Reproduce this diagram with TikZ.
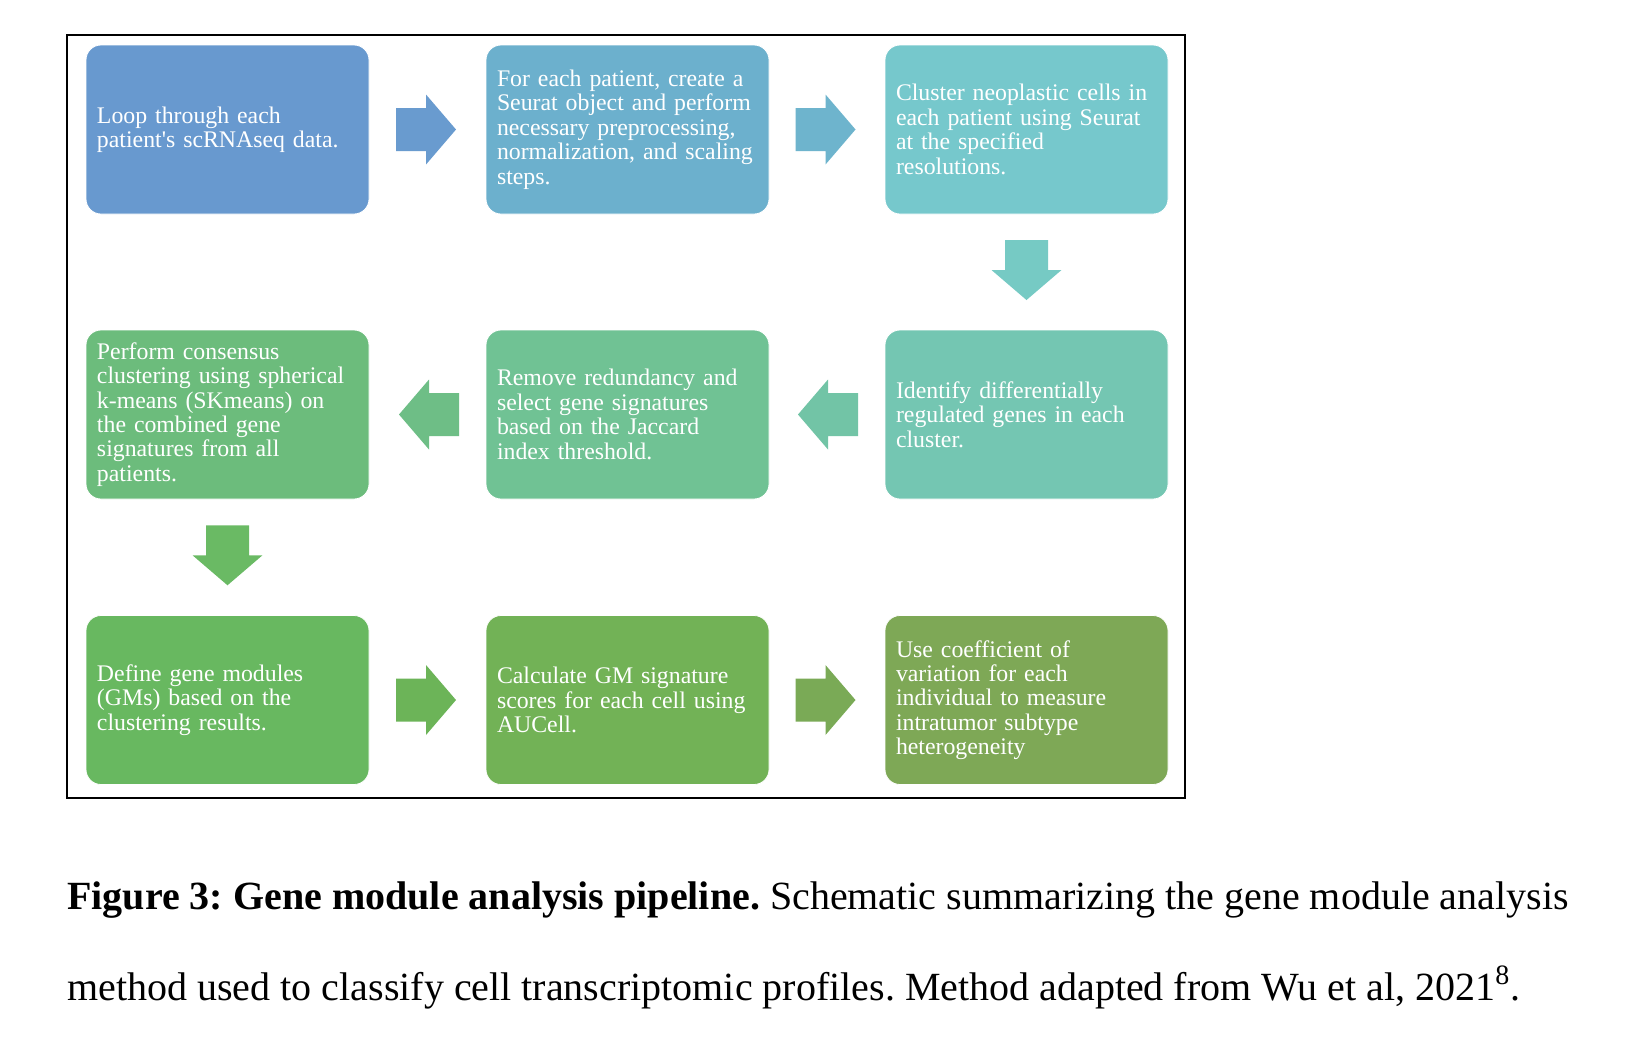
\documentclass[tikz,border=0pt]{standalone}
\usepackage{fontspec}
\setmainfont{Liberation Serif}[Ligatures=TeXOff]
\usetikzlibrary{calc}
\definecolor{bA}{RGB}{104,153,207}
\definecolor{aA}{RGB}{105,155,207}
\definecolor{bB}{RGB}{108,176,205}
\definecolor{aB}{RGB}{110,180,205}
\definecolor{bC}{RGB}{118,200,204}
\definecolor{aC}{RGB}{118,202,196}
\definecolor{bF}{RGB}{116,198,178}
\definecolor{aD}{RGB}{114,196,166}
\definecolor{bE}{RGB}{112,194,148}
\definecolor{aE}{RGB}{110,190,134}
\definecolor{bD}{RGB}{108,188,124}
\definecolor{aF}{RGB}{106,186,100}
\definecolor{bG}{RGB}{104,184,96}
\definecolor{aG}{RGB}{108,180,88}
\definecolor{bH}{RGB}{114,178,86}
\definecolor{aH}{RGB}{122,170,86}
\definecolor{bI}{RGB}{126,168,86}
\tikzset{
  stepbox/.style={rectangle, rounded corners=7.5pt, draw=white, line width=0.4pt,
    minimum width=141.5pt, minimum height=84.5pt, text width=130.5pt,
    inner xsep=5.5pt, inner ysep=0pt, align=left, text=white,
    font=\fontsize{11.9}{12.2}\selectfont},
  blockarrow/.pic={\fill[#1] (-30,-21.5) -- (0,-21.5) -- (0,-35) -- (30,0) -- (0,35) -- (0,21.5) -- (-30,21.5) -- cycle;},
  captext/.style={anchor=base west, inner sep=0pt, font=\fontsize{20}{24}\selectfont}
}
\begin{document}
\frenchspacing
\begin{tikzpicture}[x=0.5pt, y=-0.5pt]
\useasboundingbox (0,0) rectangle (1640,1056);
\fill[white] (0,0) rectangle (1640,1056);
\draw[line width=1pt] (67,35) rectangle (1185,798);
% row 1
\node[stepbox, fill=bA] (b1) at (227.5,129.5) {Loop through each\\patient's scRNAseq data.};
\node[stepbox, fill=bB] (b2) at (627.5,129.5) {For each patient, create a\\Seurat object and perform\\necessary preprocessing,\\normalization, and scaling\\steps.};
\node[stepbox, fill=bC] (b3) at (1026.5,129.5) {Cluster neoplastic cells in\\each patient using Seurat\\at the specified\\resolutions.};
% row 2
\node[stepbox, fill=bD] (b4) at (227.5,414.5) {Perform consensus\\clustering using spherical\\k-means (SKmeans) on\\the combined gene\\signatures from all\\patients.};
\node[stepbox, fill=bE] (b5) at (627.5,414.5) {Remove redundancy and\\select gene signatures\\based on the Jaccard\\index threshold.};
\node[stepbox, fill=bF] (b6) at (1026.5,414.5) {Identify differentially\\regulated genes in each\\cluster.};
% row 3
\node[stepbox, fill=bG] (b7) at (227.5,700) {Define gene modules\\(GMs) based on the\\clustering results.};
\node[stepbox, fill=bH] (b8) at (627.5,700) {Calculate GM signature\\scores for each cell using\\AUCell.};
\node[stepbox, fill=bI] (b9) at (1026.5,700) {Use coefficient of\\variation for each\\individual to measure\\intratumor subtype\\heterogeneity};
% arrows
\coordinate (m12) at ($(b1.east)!0.5!(b2.west)+(-1.5,0)$);
\coordinate (m23) at ($(b2.east)!0.5!(b3.west)+(-1.5,0)$);
\coordinate (m36) at ($(b3.south)!0.5!(b6.north)+(0,-2)$);
\coordinate (m65) at ($(b6.west)!0.5!(b5.east)+(1,0)$);
\coordinate (m54) at ($(b5.west)!0.5!(b4.east)+(1.5,0)$);
\coordinate (m47) at ($(b4.south)!0.5!(b7.north)+(0,-2)$);
\coordinate (m78) at ($(b7.east)!0.5!(b8.west)+(-1.5,0)$);
\coordinate (m89) at ($(b8.east)!0.5!(b9.west)+(-1.5,0)$);
\pic at (m12) {blockarrow=aA};
\pic at (m23) {blockarrow=aB};
\pic[rotate=-90] at (m36) {blockarrow=aC};
\pic[rotate=180] at (m65) {blockarrow=aD};
\pic[rotate=180] at (m54) {blockarrow=aE};
\pic[rotate=-90] at (m47) {blockarrow=aF};
\pic at (m78) {blockarrow=aG};
\pic at (m89) {blockarrow=aH};
% caption
\node[captext] (cap1) at (67,909) {\textbf{Figure 3: Gene module analysis pipeline.} Schematic summarizing the gene module analysis};
\node[captext] (cap2) at (67,1000) {method used to classify cell transcriptomic profiles. Method adapted from Wu et al, 2021\textsuperscript{8}.};
\end{tikzpicture}
\end{document}
